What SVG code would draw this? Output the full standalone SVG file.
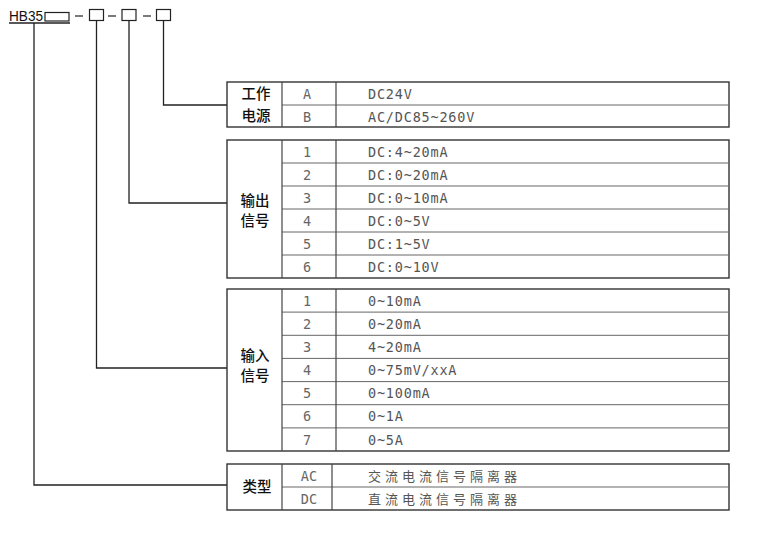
<svg xmlns="http://www.w3.org/2000/svg" width="773" height="533" viewBox="0 0 773 533">
<style>
.frame{fill:#fff;stroke:#333;stroke-width:1.4}
.row{stroke:#666;stroke-width:1;fill:none}
.col{stroke:#444;stroke-width:1.2;fill:none}
.lbl{font-family:"Noto Sans CJK SC","Noto Sans",sans-serif;font-size:14.5px;font-weight:500;fill:#111;text-anchor:middle}
.key{font-family:"DejaVu Sans Mono","Liberation Mono",monospace;font-size:13.5px;fill:#666;text-anchor:middle}
.val{font-family:"DejaVu Sans Mono","Liberation Mono",monospace;font-size:13.5px;fill:#555;letter-spacing:0.8px}
.cn{font-family:"Noto Sans CJK SC",sans-serif;font-size:13px;fill:#555;letter-spacing:4px}
.conn{stroke:#222;stroke-width:1.3;fill:none}
.hb{font-family:"Liberation Sans",Arial,sans-serif;font-size:15.5px;fill:#111}
.box{fill:#fff;stroke:#222;stroke-width:1.2}
</style>
<rect width="773" height="533" fill="#fff"/>
<g id="header">
<text class="hb" x="9" y="21" textLength="34" lengthAdjust="spacingAndGlyphs">HB35</text>
<line x1="9" y1="23" x2="70" y2="23" stroke="#222" stroke-width="1.5"/>
<rect class="box" x="45" y="12.5" width="24" height="8.5"/>
<line x1="75" y1="16" x2="83" y2="16" stroke="#222" stroke-width="1.2"/>
<rect class="box" x="89.5" y="9.5" width="14" height="11"/>
<line x1="108" y1="16" x2="116" y2="16" stroke="#222" stroke-width="1.2"/>
<rect class="box" x="122" y="9.5" width="14" height="11"/>
<line x1="143" y1="16" x2="151" y2="16" stroke="#222" stroke-width="1.2"/>
<rect class="box" x="156.5" y="9.5" width="14" height="11"/>
</g>
<g id="connectors">
<polyline class="conn" points="163.5,20.5 163.5,105 227,105"/>
<polyline class="conn" points="129,20.5 129,203 227,203"/>
<polyline class="conn" points="96.5,20.5 96.5,368 227,368"/>
<polyline class="conn" points="34,23 34,485 227,485"/>
</g>
<g id="power">
<rect class="frame" x="227" y="82" width="502" height="45"/>
<line class="row" x1="282" y1="105" x2="729" y2="105"/>
<line class="col" x1="282" y1="82" x2="282" y2="127"/>
<line class="col" x1="336" y1="82" x2="336" y2="127"/>
<text class="lbl" x="256" y="98.5">工作</text>
<text class="lbl" x="256" y="121">电源</text>
<text class="key" x="307" y="98.5">A</text>
<text class="key" x="307" y="121.5">B</text>
<text class="val" x="368" y="98.5">DC24V</text>
<text class="val" x="368" y="121.5">AC/DC85~260V</text>
</g>
<g id="output">
<rect class="frame" x="227" y="140" width="502" height="138"/>
<line class="row" x1="282" y1="163" x2="729" y2="163"/>
<line class="row" x1="282" y1="186" x2="729" y2="186"/>
<line class="row" x1="282" y1="209" x2="729" y2="209"/>
<line class="row" x1="282" y1="232" x2="729" y2="232"/>
<line class="row" x1="282" y1="255" x2="729" y2="255"/>
<line class="col" x1="282" y1="140" x2="282" y2="278"/>
<line class="col" x1="336" y1="140" x2="336" y2="278"/>
<text class="lbl" x="255" y="205.5">输出</text>
<text class="lbl" x="255" y="225.5">信号</text>
<text class="key" x="307" y="156.5">1</text>
<text class="key" x="307" y="179.5">2</text>
<text class="key" x="307" y="202.5">3</text>
<text class="key" x="307" y="225.5">4</text>
<text class="key" x="307" y="248.5">5</text>
<text class="key" x="307" y="271.5">6</text>
<text class="val" x="368" y="156.5">DC:4~20mA</text>
<text class="val" x="368" y="179.5">DC:0~20mA</text>
<text class="val" x="368" y="202.5">DC:0~10mA</text>
<text class="val" x="368" y="225.5">DC:0~5V</text>
<text class="val" x="368" y="248.5">DC:1~5V</text>
<text class="val" x="368" y="271.5">DC:0~10V</text>
</g>
<g id="input">
<rect class="frame" x="227" y="289" width="502" height="162"/>
<line class="row" x1="282" y1="312.1" x2="729" y2="312.1"/>
<line class="row" x1="282" y1="335.3" x2="729" y2="335.3"/>
<line class="row" x1="282" y1="358.4" x2="729" y2="358.4"/>
<line class="row" x1="282" y1="381.6" x2="729" y2="381.6"/>
<line class="row" x1="282" y1="404.7" x2="729" y2="404.7"/>
<line class="row" x1="282" y1="427.9" x2="729" y2="427.9"/>
<line class="col" x1="282" y1="289" x2="282" y2="451"/>
<line class="col" x1="336" y1="289" x2="336" y2="451"/>
<text class="lbl" x="255" y="361">输入</text>
<text class="lbl" x="255" y="381">信号</text>
<text class="key" x="307" y="305.6">1</text>
<text class="key" x="307" y="328.7">2</text>
<text class="key" x="307" y="351.9">3</text>
<text class="key" x="307" y="375">4</text>
<text class="key" x="307" y="398.2">5</text>
<text class="key" x="307" y="421.3">6</text>
<text class="key" x="307" y="444.5">7</text>
<text class="val" x="368" y="305.6">0~10mA</text>
<text class="val" x="368" y="328.7">0~20mA</text>
<text class="val" x="368" y="351.9">4~20mA</text>
<text class="val" x="368" y="375">0~75mV/xxA</text>
<text class="val" x="368" y="398.2">0~100mA</text>
<text class="val" x="368" y="421.3">0~1A</text>
<text class="val" x="368" y="444.5">0~5A</text>
</g>
<g id="type">
<rect class="frame" x="227" y="464" width="502" height="46"/>
<line class="row" x1="282" y1="487" x2="729" y2="487"/>
<line class="col" x1="282" y1="464" x2="282" y2="510"/>
<line class="col" x1="332" y1="464" x2="332" y2="510"/>
<text class="lbl" x="257" y="492">类型</text>
<text class="key" x="309" y="480.5">AC</text>
<text class="key" x="309" y="503.5">DC</text>
<text class="cn" x="368" y="480.5">交流电流信号隔离器</text>
<text class="cn" x="368" y="503.5">直流电流信号隔离器</text>
</g>
</svg>
